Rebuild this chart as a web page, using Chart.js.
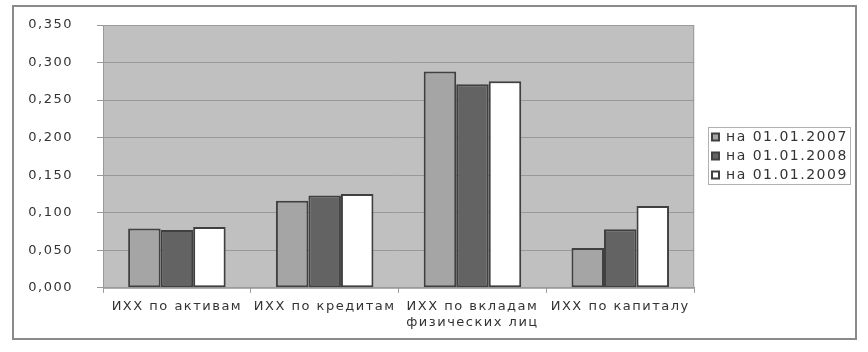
<!DOCTYPE html>
<html>
<head>
<meta charset="utf-8">
<script src="https://cdn.jsdelivr.net/npm/chart.js@4.4.1/dist/chart.umd.min.js"></script>
<style>
  body { margin: 0; background: #fff; }
  #frame { position: absolute; left: 12px; top: 5px; width: 845px; height: 335px; border: 2px solid #8a8a8a; box-sizing: border-box; }
  #box { position: absolute; left: 0; top: 0; width: 841px; height: 331px; }
</style>
</head>
<body>
<div id="frame"><div id="box"><canvas id="barChart"></canvas></div></div>
<script>
// categories and values
const categories = ['ИХХ по активам', 'ИХХ по кредитам', ['ИХХ по вкладам', 'физических лиц'], 'ИХХ по капиталу'];
const seriesNames = ['на 01.01.2007', 'на 01.01.2008', 'на 01.01.2009'];
const values2007 = [0.079, 0.116, 0.288, 0.053];
const values2008 = [0.077, 0.123, 0.271, 0.078];
const values2009 = [0.081, 0.125, 0.275, 0.109];
const yMax = 0.35;
const yStep = 0.05;

Chart.defaults.font.family = 'DejaVu Sans';
Chart.defaults.font.size = 13;
Chart.defaults.color = '#333';

const spacing = '1.5px';

// letter spacing, plot background, legend placement and frames
const paperPlugin = {
    id: 'paper',
    beforeUpdate: chart => { chart.ctx.letterSpacing = spacing; },
    afterLayout: chart => {
        const leg = chart.legend;
        const w = leg.width;
        leg.left = 693;
        leg.right = 693 + w;
        leg.top = 109;
        leg.bottom = 189;
    },
    beforeDraw: chart => {
        const { ctx, chartArea: a } = chart;
        ctx.letterSpacing = spacing;
        ctx.save();
        ctx.fillStyle = '#c0c0c0';
        ctx.fillRect(a.left, a.top, a.right - a.left, a.bottom - a.top);
        ctx.restore();
    },
    afterDraw: chart => {
        const { ctx, chartArea: a, legend } = chart;
        ctx.save();
        ctx.strokeStyle = '#9a9a9a';
        ctx.lineWidth = 1;
        ctx.strokeRect(a.left + 0.5, a.top + 0.5, a.right - a.left - 1, a.bottom - a.top);
        const boxes = legend.legendHitBoxes;
        const l = Math.min(...boxes.map(b => b.left)) - 4;
        const t = Math.min(...boxes.map(b => b.top)) - 3;
        const r = Math.max(...boxes.map(b => b.left + b.width)) + 2;
        const btm = Math.max(...boxes.map(b => b.top + b.height)) + 2;
        ctx.strokeStyle = '#b0b0b0';
        ctx.strokeRect(Math.round(l) + 0.5, Math.round(t) + 0.5, Math.round(r - l), Math.round(btm - t));
        ctx.restore();
    }
};

const ctx = document.getElementById('barChart').getContext('2d');
const chart = new Chart(ctx, {
    type: 'bar',
    data: {
        labels: categories,
        datasets: [
            { label: seriesNames[0], data: values2007, backgroundColor: '#a5a5a5' },
            { label: seriesNames[1], data: values2008, backgroundColor: '#636363' },
            { label: seriesNames[2], data: values2009, backgroundColor: '#ffffff' }
        ].map(d => Object.assign(d, { borderColor: '#404040', borderWidth: 2, borderSkipped: false }))
    },
    options: {
        responsive: true,
        maintainAspectRatio: false,
        animation: false,
        categoryPercentage: 0.66,
        barPercentage: 1,
        layout: { padding: { top: 18, right: 10, left: 0, bottom: 2 } },
        plugins: {
            tooltip: { enabled: false },
            legend: {
                position: 'right',
                labels: {
                    boxWidth: 7,
                    boxHeight: 7,
                    padding: 5,
                    font: { size: 14 },
                    color: '#333'
                }
            }
        },
        scales: {
            x: {
                grid: { display: true, drawOnChartArea: false, tickLength: 5, color: '#9a9a9a', offset: true },
                border: { color: '#9a9a9a' },
                ticks: { padding: 6, maxRotation: 0, autoSkip: false }
            },
            y: {
                min: 0,
                max: yMax,
                afterFit: scale => {
                    scale.width = 89;
                    scale.paddingTop = 8;
                    scale.paddingBottom = 8;
                },
                grid: { color: '#999999', tickLength: 6 },
                border: { display: false },
                ticks: {
                    stepSize: yStep,
                    padding: 24,
                    callback: v => v.toFixed(3).replace('.', ',')
                }
            }
        }
    },
    plugins: [paperPlugin]
});
</script>
</body>
</html>
